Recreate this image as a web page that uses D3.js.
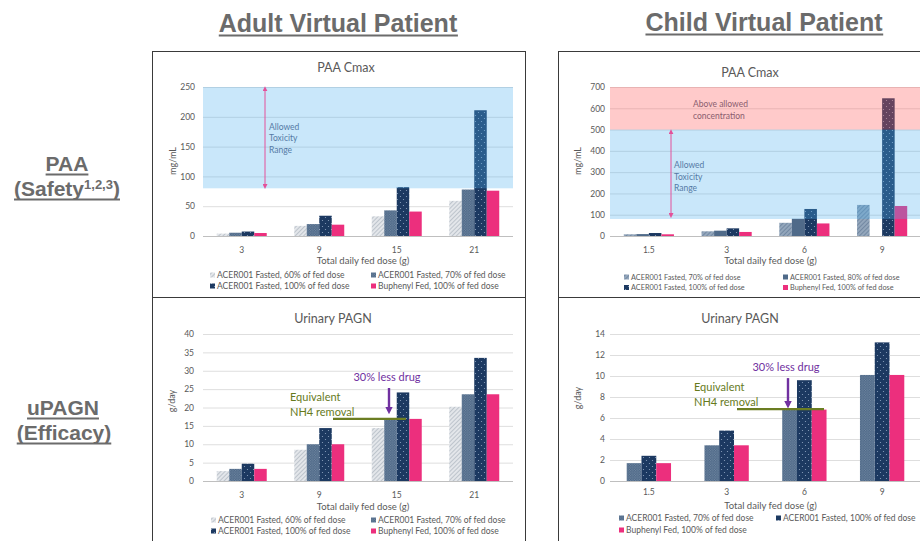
<!DOCTYPE html>
<html>
<head>
<meta charset="utf-8">
<script src="https://cdn.jsdelivr.net/npm/d3@7"></script>
<style>
  body { margin: 0; background: #fff; }
  svg { display: block; }
  .tick text { font-family: Lato, sans-serif; fill: #595959; }
</style>
</head>
<body>
<div id="chart"></div>
<script>
// ---- data ----
var adultDoses = ['3', '9', '15', '21'];
var childDoses = ['1.5', '3', '6', '9'];

var adultSeriesNames = ['ACER001 Fasted, 60% of fed dose', 'ACER001 Fasted, 70% of fed dose',
	'ACER001 Fasted, 100% of fed dose', 'Buphenyl Fed, 100% of fed dose'];
var childPaaSeriesNames = ['ACER001 Fasted, 70% of fed dose', 'ACER001 Fasted, 80% of fed dose',
	'ACER001 Fasted, 100% of fed dose', 'Buphenyl Fed, 100% of fed dose'];
var childPagnSeriesNames = ['ACER001 Fasted, 70% of fed dose', 'ACER001 Fasted, 100% of fed dose',
	'Buphenyl Fed, 100% of fed dose'];

// PAA Cmax (mg/mL)
var adultPaa60 = [4, 17, 33, 59];
var adultPaa70 = [5.5, 20, 43, 78];
var adultPaa100 = [7.5, 34, 82, 211];
var adultPaaBuph = [5, 19, 41, 76];
var childPaa70 = [8, 22, 62, 146];
var childPaa80 = [9, 25, 81, null];
var childPaa100 = [14, 36, 127, 647];
var childPaaBuph = [8, 19, 59, 141];

// Urinary PAGN (g/day)
var adultPagn60 = [2.7, 8.5, 14.4, 20.2];
var adultPagn70 = [3.3, 10.0, 17.0, 23.6];
var adultPagn100 = [4.7, 14.4, 24.1, 33.5];
var adultPagnBuph = [3.3, 10.0, 16.9, 23.6];
var childPagn70 = [1.7, 3.4, 6.8, 10.1];
var childPagn100 = [2.4, 4.8, 9.6, 13.2];
var childPagnBuph = [1.7, 3.4, 6.8, 10.1];

// ranges
var adultToxBand = [80, 250];
var childToxBand = [80, 500];
var childAboveBand = [500, 700];

var fmt = {
	font: 'Lato, sans-serif',
	clr_text: '#595959',
	clr_grid: '#dedede',
	clr_axis: '#bfbfbf',
	clr_head: '#6b6b6b',
	clr_border: '#3a3a3a'
};

var svg = d3.select('#chart').append('svg')
	.attr('width', 920).attr('height', 541);

// ---- patterns ----
var defs = svg.append('defs');
function hatch(id, base, lineClr, size, angle) {
	var p = defs.append('pattern').attr('id', id)
		.attr('patternUnits', 'userSpaceOnUse')
		.attr('width', size).attr('height', size)
		.attr('patternTransform', 'rotate(' + angle + ')');
	p.append('rect').attr('width', size).attr('height', size).attr('fill', base);
	p.append('line').attr('x1', 0).attr('y1', 0).attr('x2', 0).attr('y2', size)
		.attr('stroke', lineClr).attr('stroke-width', 1.2);
}
function dots(id, base, dotClr, size, r) {
	var p = defs.append('pattern').attr('id', id)
		.attr('patternUnits', 'userSpaceOnUse')
		.attr('width', size).attr('height', size);
	p.append('rect').attr('width', size).attr('height', size).attr('fill', base);
	p.append('circle').attr('cx', size / 4).attr('cy', size / 4).attr('r', r).attr('fill', dotClr);
	p.append('circle').attr('cx', 3 * size / 4).attr('cy', 3 * size / 4).attr('r', r).attr('fill', dotClr);
}
hatch('p60', '#e3e6ea', '#a4adb9', 3, 45);
hatch('pc70', '#93a6bb', '#5c7392', 3, 45);
dots('p70', '#4d6887', '#7a90a9', 2.5, 0.55);
dots('p100', '#1c3961', '#8ea4c0', 6, 0.6);
var clr80 = '#4f6a89';
var clrBuph = '#ec2f7d';

// markers
defs.append('marker').attr('id', 'pinkHead').attr('viewBox', '0 0 10 10')
	.attr('refX', 5).attr('refY', 5).attr('markerWidth', 5).attr('markerHeight', 5)
	.attr('orient', 'auto-start-reverse')
	.append('path').attr('d', 'M0,0L10,5L0,10z').attr('fill', '#e4519a');
defs.append('marker').attr('id', 'purpleHead').attr('viewBox', '0 0 10 10')
	.attr('refX', 6).attr('refY', 5).attr('markerWidth', 3.2).attr('markerHeight', 3.2)
	.attr('orient', 'auto')
	.append('path').attr('d', 'M0,0L10,5L0,10z').attr('fill', '#7030a0');

// ---- panel borders ----
function panel(x, y, w, h) {
	svg.append('rect').attr('x', x).attr('y', y).attr('width', w).attr('height', h)
		.attr('fill', 'none').attr('stroke', fmt.clr_border).attr('stroke-width', 1);
}
panel(152.5, 51.5, 373, 246);
panel(152.5, 297.5, 373, 260);
panel(558.5, 51.5, 380, 246);
panel(558.5, 297.5, 380, 260);

// ---- headers ----
function uText(x, y, str, size, sup) {
	var t = svg.append('text').attr('x', x).attr('y', y)
		.attr('text-anchor', 'middle')
		.style('font-family', '"Liberation Sans", Arial, sans-serif')
		.style('font-weight', 'bold').style('font-size', size + 'px')
		.style('fill', fmt.clr_head);
	if (sup) {
		t.append('tspan').text(str);
		t.append('tspan').attr('dy', -size * 0.35).style('font-size', (size * 0.62) + 'px').text(sup);
		t.append('tspan').attr('dy', size * 0.35).text(')');
	} else {
		t.text(str);
	}
	var bb = t.node().getBBox();
	svg.append('line').attr('x1', bb.x).attr('x2', bb.x + bb.width)
		.attr('y1', y + 3.5).attr('y2', y + 3.5)
		.attr('stroke', fmt.clr_head).attr('stroke-width', 2);
}
uText(338, 32, 'Adult Virtual Patient', 25);
uText(764, 31, 'Child Virtual Patient', 25);
uText(67, 171, 'PAA', 21);
uText(67, 196, '(Safety', 21, '1,2,3');
uText(63, 415, 'uPAGN', 21);
uText(64, 440, '(Efficacy)', 21);

// ---- chart ----
function drawChart(c) {
	var g = svg.append('g');
	var x = d3.scaleBand().domain(c.cats).range([c.left, c.right])
		.paddingInner(c.pad).paddingOuter(c.pad / 2);
	var inner = d3.scaleBand().domain(d3.range(c.series.length)).range([0, x.bandwidth()]);
	var y = d3.scaleLinear().domain([0, c.yMax]).range([c.bottom, c.top]);

	// grid + y ticks
	var ya = g.append('g').attr('transform', `translate(${c.left},0)`)
		.call(d3.axisLeft(y).tickValues(d3.range(0, c.yMax + 0.001, c.yStep))
			.tickSize(-(c.right - c.left)).tickPadding(c.yPad));
	ya.select('.domain').remove();
	ya.selectAll('.tick line').attr('stroke', fmt.clr_grid);
	ya.selectAll('.tick text').style('font-size', '8.5px');

	// bars
	c.series.forEach(function(s, i) {
		g.selectAll(null).data(s.values.map(function(v, j) { return {v: v, cat: c.cats[j]}; })
				.filter(function(d) { return d.v != null; }))
			.enter().append('rect')
			.attr('x', function(d) { return x(d.cat) + inner(i); })
			.attr('y', function(d) { return y(d.v); })
			.attr('width', inner.bandwidth())
			.attr('height', function(d) { return c.bottom - y(d.v); })
			.attr('fill', s.fill);
	});

	// translucent ranges on top of bars
	(c.bands || []).forEach(function(b) {
		g.append('rect').attr('x', c.left).attr('width', c.right - c.left)
			.attr('y', y(b.range[1])).attr('height', y(b.range[0]) - y(b.range[1]))
			.attr('fill', b.fill).attr('fill-opacity', b.opacity);
	});

	// x axis
	var xa = g.append('g').attr('transform', `translate(0,${c.bottom})`)
		.call(d3.axisBottom(x).tickSize(0).tickPadding(c.xPad));
	xa.select('.domain').attr('stroke', fmt.clr_axis).attr('d', `M${c.left},0.5H${c.right}`);
	xa.selectAll('.tick text').style('font-size', '8.5px');

	// titles
	g.append('text').attr('x', c.titleX).attr('y', c.titleY).attr('text-anchor', 'middle')
		.style('font-family', fmt.font).style('font-size', '12.5px').style('fill', fmt.clr_text)
		.text(c.title);
	g.append('text').attr('x', (c.left + c.right) / 2 + 5).attr('y', c.xTitleY).attr('text-anchor', 'middle')
		.style('font-family', fmt.font).style('font-size', '9.5px').style('fill', fmt.clr_text)
		.text('Total daily fed dose (g)');
	g.append('text').attr('transform', `translate(${c.yLabelX},${c.yLabelY}) rotate(-90)`)
		.attr('text-anchor', 'middle')
		.style('font-family', fmt.font).style('font-size', '9px').style('fill', fmt.clr_text)
		.text(c.yLabel);

	// legend
	c.series.forEach(function(s, i) {
		var p = c.legendPos[i];
		g.append('rect').attr('x', p[0]).attr('y', p[1] - 2.5).attr('width', 5).attr('height', 5).attr('fill', s.fill);
		g.append('text').attr('x', p[0] + 7).attr('y', p[1]).attr('dy', '0.35em')
			.style('font-family', fmt.font).style('font-size', c.legendSize + 'px').style('fill', fmt.clr_text)
			.text(s.name);
	});

	return {g: g, x: x, y: y, inner: inner};
}

function bandNote(ch, c, arrow, lines, textDx, textV, clr) {
	if (arrow) {
		ch.g.append('line').attr('x1', c.left + arrow.dx).attr('x2', c.left + arrow.dx)
			.attr('y1', ch.y(arrow.v[0])).attr('y2', ch.y(arrow.v[1]))
			.attr('stroke', '#e4519a').attr('stroke-width', 1)
			.attr('marker-start', 'url(#pinkHead)').attr('marker-end', 'url(#pinkHead)');
	}
	lines.forEach(function(l, i) {
		ch.g.append('text').attr('x', c.left + textDx).attr('y', ch.y(textV) + i * 11.5).attr('dy', '0.35em')
			.style('font-family', fmt.font).style('font-size', '8.5px').style('fill', clr)
			.text(l);
	});
}

function pagnNote(ch, c, level, a) {
	var t = ch.g.append('text').attr('x', c.left + a.textDx).attr('y', ch.y(a.textV)).attr('dy', '0.35em')
		.style('font-family', fmt.font).style('font-size', '11px').style('fill', '#667a1c');
	t.text('Equivalent');
	ch.g.append('text').attr('x', c.left + a.textDx).attr('y', ch.y(a.textV) + 15).attr('dy', '0.35em')
		.style('font-family', fmt.font).style('font-size', '11px').style('fill', '#667a1c')
		.text('NH4 removal');
	ch.g.append('line').attr('x1', c.left + a.lineDx[0]).attr('x2', c.left + a.lineDx[1])
		.attr('y1', ch.y(level)).attr('y2', ch.y(level))
		.attr('stroke', '#6b7d22').attr('stroke-width', 2.2);
	ch.g.append('line').attr('x1', c.left + a.arrowDx).attr('x2', c.left + a.arrowDx)
		.attr('y1', ch.y(a.arrowV[0])).attr('y2', ch.y(a.arrowV[1]))
		.attr('stroke', '#7030a0').attr('stroke-width', 2.4).attr('marker-end', 'url(#purpleHead)');
	ch.g.append('text').attr('x', c.left + a.labelDx).attr('y', ch.y(a.labelV)).attr('dy', '0.35em')
		.attr('text-anchor', 'middle')
		.style('font-family', fmt.font).style('font-size', '11px').style('fill', '#7030a0')
		.text('30% less drug');
}

// Adult PAA
var cA1 = {
	cats: adultDoses, left: 203, right: 513, top: 87, bottom: 236, yMax: 250, yStep: 50, yPad: 8, xPad: 11, pad: 0.355,
	title: 'PAA Cmax', titleX: 346, titleY: 72, xTitleY: 263.5, yLabel: 'mg/mL', yLabelX: 176, yLabelY: 161,
	series: [
		{name: adultSeriesNames[0], values: adultPaa60, fill: 'url(#p60)'},
		{name: adultSeriesNames[1], values: adultPaa70, fill: 'url(#p70)'},
		{name: adultSeriesNames[2], values: adultPaa100, fill: 'url(#p100)'},
		{name: adultSeriesNames[3], values: adultPaaBuph, fill: clrBuph}
	],
	bands: [{range: adultToxBand, fill: '#4cb0f0', opacity: 0.3}],
	legendPos: [[210, 275], [371, 275], [210, 286], [371, 286]], legendSize: 8.5
};
var chA1 = drawChart(cA1);
bandNote(chA1, cA1, {dx: 62, v: [247, 83]}, ['Allowed', 'Toxicity', 'Range'], 66, 183, '#557aa5');

// Child PAA
var cC1 = {
	cats: childDoses, left: 610, right: 921, top: 87, bottom: 236, yMax: 700, yStep: 100, yPad: 5, xPad: 11, pad: 0.355,
	title: 'PAA Cmax', titleX: 750, titleY: 77, xTitleY: 263.5, yLabel: 'mg/mL', yLabelX: 581, yLabelY: 161,
	series: [
		{name: childPaaSeriesNames[0], values: childPaa70, fill: 'url(#pc70)'},
		{name: childPaaSeriesNames[1], values: childPaa80, fill: clr80},
		{name: childPaaSeriesNames[2], values: childPaa100, fill: 'url(#p100)'},
		{name: childPaaSeriesNames[3], values: childPaaBuph, fill: clrBuph}
	],
	bands: [{range: childToxBand, fill: '#4cb0f0', opacity: 0.3},
		{range: childAboveBand, fill: '#ff5a5a', opacity: 0.32}],
	legendPos: [[624, 277], [783, 277], [624, 287.5], [783, 287.5]], legendSize: 7.3
};
var chC1 = drawChart(cC1);
bandNote(chC1, cC1, {dx: 61, v: [490, 96]}, ['Allowed', 'Toxicity', 'Range'], 64, 333, '#557aa5');
bandNote(chC1, cC1, null, ['Above allowed', 'concentration'], 83, 620, '#8a5d6e');

// Adult uPAGN
var cA2 = {
	cats: adultDoses, left: 203, right: 513, top: 334, bottom: 481, yMax: 40, yStep: 5, yPad: 9, xPad: 11, pad: 0.355,
	title: 'Urinary PAGN', titleX: 333, titleY: 323, xTitleY: 509.5, yLabel: 'g/day', yLabelX: 175, yLabelY: 401,
	series: [
		{name: adultSeriesNames[0], values: adultPagn60, fill: 'url(#p60)'},
		{name: adultSeriesNames[1], values: adultPagn70, fill: 'url(#p70)'},
		{name: adultSeriesNames[2], values: adultPagn100, fill: 'url(#p100)'},
		{name: adultSeriesNames[3], values: adultPagnBuph, fill: clrBuph}
	],
	legendPos: [[211, 520], [371, 520], [211, 531], [371, 531]], legendSize: 8.5
};
var chA2 = drawChart(cA2);
pagnNote(chA2, cA2, adultPagnBuph[2], {textDx: 87, textV: 22.9, lineDx: [130, 203],
	arrowDx: 186, arrowV: [25.3, 19], labelDx: 184, labelV: 28.3});

// Child uPAGN
var cC2 = {
	cats: childDoses, left: 610, right: 921, top: 334, bottom: 481, yMax: 14, yStep: 2, yPad: 5, xPad: 8, pad: 0.43,
	title: 'Urinary PAGN', titleX: 740, titleY: 323, xTitleY: 508.5, yLabel: 'g/day', yLabelX: 581, yLabelY: 398,
	series: [
		{name: childPagnSeriesNames[0], values: childPagn70, fill: 'url(#p70)'},
		{name: childPagnSeriesNames[1], values: childPagn100, fill: 'url(#p100)'},
		{name: childPagnSeriesNames[2], values: childPagnBuph, fill: clrBuph}
	],
	legendPos: [[619, 518], [776, 518], [619, 530]], legendSize: 8.5
};
var chC2 = drawChart(cC2);
pagnNote(chC2, cC2, childPagnBuph[2] + 0.05, {textDx: 84, textV: 8.95, lineDx: [127, 214],
	arrowDx: 178, arrowV: [9.8, 7.2], labelDx: 176, labelV: 10.86});
</script>
</body>
</html>
